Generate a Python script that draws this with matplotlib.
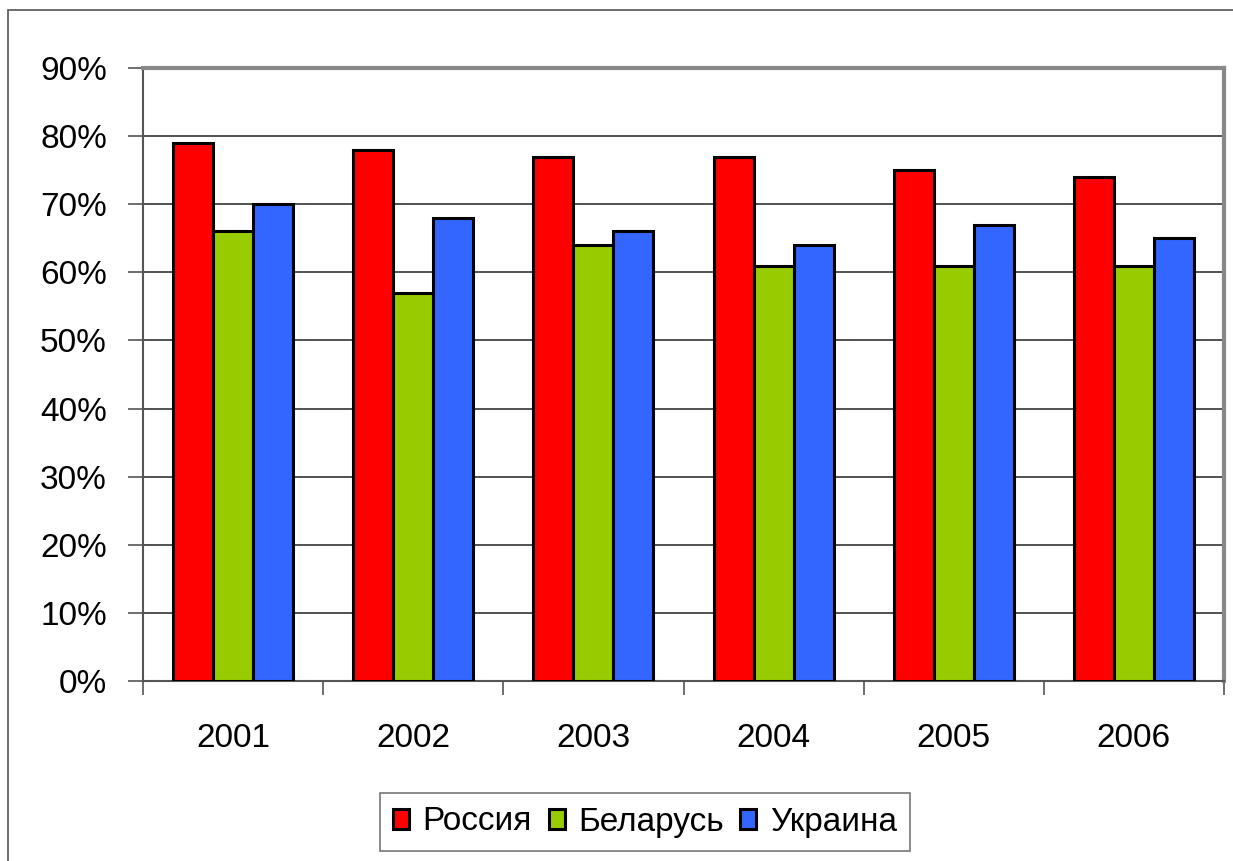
import numpy as np
import matplotlib.pyplot as plt
from matplotlib.patches import Rectangle
from matplotlib.ticker import PercentFormatter

years = ["2001", "2002", "2003", "2004", "2005", "2006"]
russia = [79, 78, 77, 77, 75, 74]
belarus = [66, 57, 64, 61, 61, 61]
ukraine = [70, 68, 66, 64, 67, 65]
series_names = ["Россия", "Беларусь", "Украина"]
colors = ["#ff0000", "#99cc00", "#3366ff"]

plt.rcParams['font.family'] = ['Liberation Sans', 'DejaVu Sans']

fig = plt.figure(figsize=(12.33, 8.61), dpi=100)
ax = fig.add_axes([143/1233, 1 - 681/861, (1224-143)/1233, (681-68)/861])

# outer frame of the chart object, cut off at right and bottom
fig.patches.append(Rectangle((8/1233, -0.1), 1.1, 1 - 10/861 + 0.1, transform=fig.transFigure,
                             fill=False, edgecolor="#555555", linewidth=1.2))

x = np.arange(len(years))
w = 40/180
for i, (vals, name, c) in enumerate(zip([russia, belarus, ukraine], series_names, colors)):
    ax.bar(x + (i - 1) * w, vals, width=w, color=c, edgecolor="black", linewidth=2.2,
           label=name, zorder=3)

ax.set_xlim(-0.5, len(years) - 0.5)
ax.set_ylim(0, 90)
ax.set_yticks(range(0, 91, 10))
ax.yaxis.set_major_formatter(PercentFormatter(decimals=0))
ax.set_xticks(x)
ax.set_xticklabels(years)
ax.set_xticks(np.arange(-0.5, len(years)), minor=True)
ax.tick_params(axis="x", which="major", length=0, pad=30, labelsize=24)
ax.tick_params(axis="x", which="minor", length=10, width=1.2, color="#555555", direction="out")
ax.tick_params(axis="y", length=11, width=1.2, color="#555555", labelsize=24, pad=15)

ax.grid(axis="y", color="#333333", linewidth=1.2, zorder=0)
ax.set_axisbelow(True)
for side in ["top", "right"]:
    ax.spines[side].set_color("#888888")
    ax.spines[side].set_linewidth(3)
ax.spines["left"].set_color("#555555")
ax.spines["left"].set_linewidth(1.5)
ax.spines["bottom"].set_color("#555555")
ax.spines["bottom"].set_linewidth(1.5)

leg = ax.legend(loc="center", bbox_to_anchor=(645/1233, 1 - 822/861), bbox_transform=fig.transFigure,
                ncol=3, fontsize=24, frameon=True, fancybox=False, handlelength=0.48, handleheight=0.55,
                handletextpad=0.4, columnspacing=0.5, borderpad=0.4)
leg.get_frame().set_edgecolor("#555555")
leg.get_frame().set_linewidth(1.2)

fig.savefig("out.png", dpi=100)
